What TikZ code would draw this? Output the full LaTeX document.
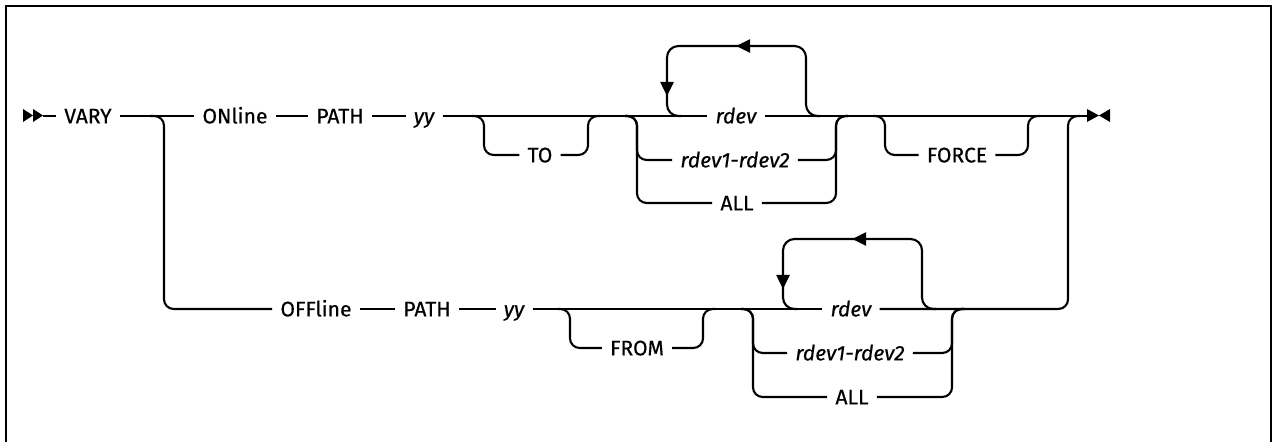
\documentclass[tikz,border=0pt]{standalone}
\usepackage{fontspec}
\setmainfont{Fira Sans}[FakeBold=0.5]
\usetikzlibrary{arrows.meta,decorations.markings}
\tikzset{
  kw/.style={inner xsep=4.5pt,inner ysep=0pt,text height=8.4pt,text depth=0pt,
    font=\fontsize{12pt}{14pt}\selectfont},
  var/.style={kw,font=\fontsize{12pt}{14pt}\selectfont\itshape},
  rail/.style={line width=1.2pt,rounded corners=5.5pt},
  loopback/.style={rail,rounded corners=6.5pt,postaction={decorate},decoration={markings,
    mark=at position 82pt with {\arrow{Triangle[length=8pt,width=7.5pt]}},
    mark=at position 147pt with {\arrow{Triangle[length=8pt,width=7.5pt]}}}}
}
\begin{document}
\begin{tikzpicture}[x=0.02cm,y=-0.02cm]
\useasboundingbox (0,0) rectangle (1273,442);
% frame, open at the bottom
\draw[line width=1.2pt] (6,442) -- (6,6) -- (1271,6) -- (1271,442);
% keywords and variables
\node[kw]  (vary)   at (88,116)  {VARY};
\node[kw]  (onl)    at (235,116) {ONline};
\node[kw]  (path1)  at (340,116) {PATH};
\node[var] (yy1)    at (424,116) {yy};
\node[kw]  (to)     at (540,155) {TO};
\node[var] (rdev1)  at (736,116) {rdev};
\node[var] (range1) at (735,160) {rdev1-rdev2};
\node[kw]  (all1)   at (737,203) {ALL};
\node[kw]  (force)  at (957,155) {FORCE};
\node[kw]  (offl)   at (316,309) {OFFline};
\node[kw]  (path2)  at (427,309) {PATH};
\node[var] (yy2)    at (514,309) {yy};
\node[kw]  (from)   at (637,348) {FROM};
\node[var] (rdev2)  at (851,309) {rdev};
\node[var] (range2) at (850,353) {rdev1-rdev2};
\node[kw]  (all2)   at (852,397) {ALL};
% junction points
\coordinate (st) at (43,116);
\coordinate (fin) at (1088,116);
\coordinate (brA) at (150,116);  \coordinate (brB) at (164,309);
\coordinate (toA) at (472,116);  \coordinate (toB) at (484,155);
\coordinate (toC) at (588,116);  \coordinate (toD) at (600,116);
\coordinate (c1A) at (625,116);  \coordinate (c1B) at (637,160);
\coordinate (c1C) at (637,203);  \coordinate (c1D) at (836,116);
\coordinate (c1E) at (848,116);
\coordinate (l1A) at (820,116);  \coordinate (l1B) at (806,46);
\coordinate (l1C) at (667,116);  \coordinate (l1D) at (681,116);
\coordinate (fA) at (873,116);   \coordinate (fB) at (885,155);
\coordinate (fC) at (1028,116);  \coordinate (fD) at (1040,116);
\coordinate (frA) at (558,309);  \coordinate (frB) at (570,348);
\coordinate (frC) at (703,309);  \coordinate (frD) at (715,309);
\coordinate (c2A) at (741,309);  \coordinate (c2B) at (753,353);
\coordinate (c2C) at (753,397);  \coordinate (c2D) at (952,309);
\coordinate (c2E) at (964,309);
\coordinate (l2A) at (936,309);  \coordinate (l2B) at (922,239);
\coordinate (l2C) at (783,309);  \coordinate (l2D) at (797,309);
\coordinate (jn) at (1068,116);  \coordinate (jnE) at (1080,116);
% start and end marks
\fill (23,109) -- (33,115.5) -- (23,122) -- cycle;
\fill (33,109) -- (43,115.5) -- (33,122) -- cycle;
\fill (1087,109) -- (1099,115.5) -- (1087,122) -- cycle;
\fill (1110,109) -- (1099,115.5) -- (1110,122) -- cycle;
% ONline row
\draw[rail] (st) -- (vary);
\draw[rail] (vary) -- (onl);
\draw[rail] (onl) -- (path1);
\draw[rail] (path1) -- (yy1);
\draw[rail] (yy1) -- (rdev1);
\draw[rail] (rdev1) -- (fin);
\draw[rail] (toA) -| (toB) -- (to.west);
\draw[rail] (to.east) -| (toC) -- (toD);
\draw[rail] (c1A) -| (c1B) -- (range1.west);
\draw[rail] (c1A) -| (c1C) -- (all1.west);
\draw[rail] (range1.east) -| (c1D) -- (c1E);
\draw[rail] (all1.east) -| (c1D) -- (c1E);
\draw[loopback] (l1A) -| (l1B) -| (l1C) -- (l1D);
\draw[rail] (fA) -| (fB) -- (force.west);
\draw[rail] (force.east) -| (fC) -- (fD);
% OFFline row
\draw[rail] (brA) -| (brB) -- (offl.west);
\draw[rail] (offl) -- (path2);
\draw[rail] (path2) -- (yy2);
\draw[rail] (yy2) -- (rdev2);
\draw[rail] (frA) -| (frB) -- (from.west);
\draw[rail] (from.east) -| (frC) -- (frD);
\draw[rail] (c2A) -| (c2B) -- (range2.west);
\draw[rail] (c2A) -| (c2C) -- (all2.west);
\draw[rail] (range2.east) -| (c2D) -- (c2E);
\draw[rail] (all2.east) -| (c2D) -- (c2E);
\draw[loopback] (l2A) -| (l2B) -| (l2C) -- (l2D);
\draw[rail] (rdev2.east) -| (jn) -- (jnE);
\end{tikzpicture}
\end{document}
